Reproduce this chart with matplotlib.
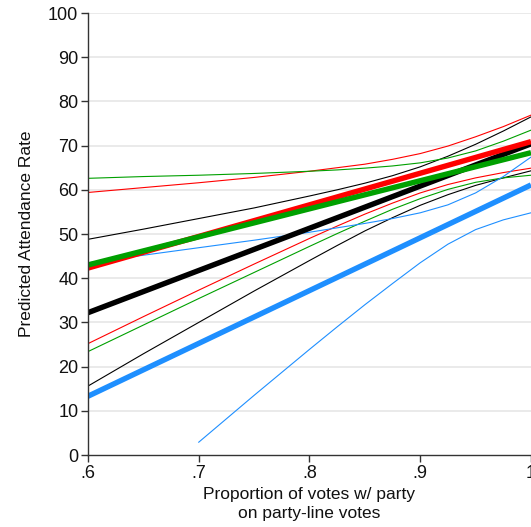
import matplotlib
matplotlib.use('Agg')
import matplotlib.pyplot as plt

plt.rcParams['font.family'] = ['Liberation Sans', 'DejaVu Sans']

# x grid for the confidence bands
X_BAND = [.6, .65, .7, .75, .8, .825, .85, .875, .9, .925, .95, .975, 1.0]
X_FIT  = [.6, 1.0]

# fitted lines (thick)
BLACK_FIT = [32.2, 70.4]
RED_FIT   = [42.3, 70.9]
GREEN_FIT = [43.0, 68.4]
BLUE_FIT  = [13.3, 61.1]

# confidence bounds (thin)
BLACK_UP = [48.8, 51.1, 53.5, 55.9, 58.6, 60.0, 61.5, 63.2, 65.2, 67.6, 70.3, 73.3, 76.5]
BLACK_LO = [15.6, 22.9, 30.0, 37.1, 44.0, 47.4, 50.7, 53.7, 56.5, 58.9, 61.0, 62.7, 64.3]
RED_UP   = [59.4, 60.5, 61.6, 62.8, 64.2, 65.0, 65.8, 66.9, 68.2, 69.9, 72.0, 74.3, 76.9]
RED_LO   = [25.2, 31.3, 37.3, 43.2, 49.0, 51.8, 54.5, 57.0, 59.3, 61.2, 62.7, 63.9, 64.9]
GREEN_UP = [62.6, 63.0, 63.3, 63.7, 64.2, 64.5, 64.9, 65.4, 66.1, 67.2, 68.8, 71.0, 73.5]
GREEN_LO = [23.4, 29.4, 35.4, 41.3, 47.2, 50.1, 52.9, 55.6, 58.0, 60.1, 61.7, 62.7, 63.3]
BLUE_UP  = [43.5, 45.2, 46.9, 48.6, 50.4, 51.4, 52.4, 53.5, 54.8, 56.6, 59.3, 63.0, 67.4]
# lower blue bound only shown from .7 on
X_BLUE_LO = [.7, .75, .8, .825, .85, .875, .9, .925, .95, .975, 1.0]
BLUE_LO   = [2.9, 13.5, 23.9, 29.0, 34.0, 38.8, 43.5, 47.7, 51.0, 53.2, 54.8]

Y_TICKS  = list(range(0, 101, 10))
X_TICKS  = [.6, .7, .8, .9, 1.0]
X_LABELS = ['.6', '.7', '.8', '.9', '1']

C_BLACK = '#000000'
C_RED   = '#ff0000'
C_GREEN = '#00a000'
C_BLUE  = '#1e8fff'

fig = plt.figure(figsize=(5.31, 5.27), dpi=100)
ax = fig.add_axes([0.1657, 0.1366, 0.8343, 0.8387])

for y in Y_TICKS[1:]:
    ax.axhline(y, color='#e8e8e8', lw=1.3, zorder=0)

thin = 0.8
thick = 3.9

ax.plot(X_BAND, BLACK_UP, color=C_BLACK, lw=thin)
ax.plot(X_BAND, BLACK_LO, color=C_BLACK, lw=thin)
ax.plot(X_BAND, RED_UP, color=C_RED, lw=thin)
ax.plot(X_BAND, RED_LO, color=C_RED, lw=thin)
ax.plot(X_BAND, GREEN_UP, color=C_GREEN, lw=thin)
ax.plot(X_BAND, GREEN_LO, color=C_GREEN, lw=thin)
ax.plot(X_BAND, BLUE_UP, color=C_BLUE, lw=thin)
ax.plot(X_BLUE_LO, BLUE_LO, color=C_BLUE, lw=thin)

ax.plot(X_FIT, BLACK_FIT, color=C_BLACK, lw=thick, solid_capstyle='butt')
ax.plot(X_FIT, RED_FIT, color=C_RED, lw=thick, solid_capstyle='butt')
ax.plot(X_FIT, GREEN_FIT, color=C_GREEN, lw=thick, solid_capstyle='butt')
ax.plot(X_FIT, BLUE_FIT, color=C_BLUE, lw=thick, solid_capstyle='butt')

ax.set_xlim(.6, 1.0)
ax.set_ylim(0, 100)
ax.set_xticks(X_TICKS)
ax.set_xticklabels(X_LABELS)
ax.set_yticks(Y_TICKS)

ax.spines[['top', 'right']].set_visible(False)
for s in ('left', 'bottom'):
    ax.spines[s].set_color('#333333')
    ax.spines[s].set_linewidth(1.0)
ax.tick_params(axis='both', direction='out', length=5, width=1.0,
               color='#333333', labelsize=13, labelcolor='#111111', pad=2)

ax.set_ylabel('Predicted Attendance Rate', fontsize=12.5, color='#111111', labelpad=10)
ax.set_xlabel('Proportion of votes w/ party\non party-line votes', fontsize=12.5,
              color='#111111', labelpad=4, linespacing=1.3)

fig.savefig('out.png', dpi=100)
